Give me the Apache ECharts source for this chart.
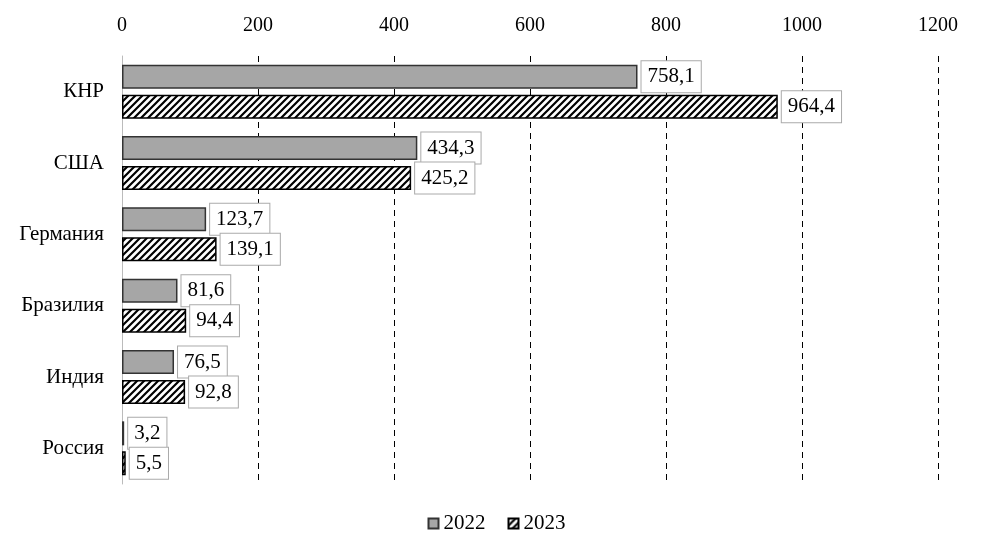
<!DOCTYPE html>
<html>
<head>
<meta charset="utf-8">
<script src="https://cdn.jsdelivr.net/npm/echarts@6/dist/echarts.min.js"></script>
<style>
  html, body { margin: 0; padding: 0; background: #fff; }
  #chart { width: 993px; height: 555px; }
</style>
</head>
<body>
<div id="chart"></div>
<script>
var countries = ['КНР', 'США', 'Германия', 'Бразилия', 'Индия', 'Россия'];
var values2022 = [758.1, 434.3, 123.7, 81.6, 76.5, 3.2];
var values2023 = [964.4, 425.2, 139.1, 94.4, 92.8, 5.5];
var seriesNames = ['2022', '2023'];

// hatch pattern for 2023
var hatch = document.createElement('canvas');
hatch.width = 7;
hatch.height = 7;
var hc = hatch.getContext('2d');
hc.fillStyle = '#fff';
hc.fillRect(0, 0, 7, 7);
hc.strokeStyle = '#000';
hc.lineWidth = 2.2;
hc.beginPath();
hc.moveTo(-1, 8); hc.lineTo(8, -1);
hc.moveTo(-4.5, 4.5); hc.lineTo(4.5, -4.5);
hc.moveTo(2.5, 11.5); hc.lineTo(11.5, 2.5);
hc.stroke();

var font = "'Liberation Serif', 'Times New Roman', serif";

function fmt(p) {
  return String(p.value).replace('.', ',');
}

var labelStyle = {
  show: true,
  position: 'right',
  distance: 4,
  formatter: fmt,
  fontFamily: font,
  fontSize: 21,
  lineHeight: 22,
  color: '#000',
  backgroundColor: '#fff',
  borderColor: '#aaa',
  borderWidth: 1,
  padding: [5, 6, 4, 6]
};

var chart = echarts.init(document.getElementById('chart'));
chart.setOption({
  animation: false,
  grid: { left: 122, right: 55, top: 56, bottom: 71 },
  legend: {
    bottom: 16,
    left: 'center',
    icon: 'rect',
    itemWidth: 10,
    itemHeight: 10,
    itemGap: 22,
    textStyle: { fontFamily: font, fontSize: 21, color: '#000' },
    data: seriesNames
  },
  xAxis: {
    type: 'value',
    position: 'top',
    min: 0,
    max: 1200,
    interval: 200,
    axisLine: { show: false },
    axisTick: { show: false },
    axisLabel: {
      fontFamily: font, fontSize: 20, color: '#000', margin: 20,
      formatter: function (v) { return String(v); }
    },
    splitLine: { show: true, lineStyle: { color: '#000', type: [6, 5], width: 1 } }
  },
  yAxis: {
    type: 'category',
    inverse: true,
    data: countries,
    axisLine: { show: true, lineStyle: { color: '#bbb' } },
    axisTick: { show: false },
    axisLabel: { fontFamily: font, fontSize: 21, color: '#000', margin: 18 }
  },
  series: [
    {
      name: seriesNames[0],
      type: 'bar',
      data: values2022,
      barWidth: 24,
      barGap: '25%',
      itemStyle: { color: '#a6a6a6', borderColor: '#333', borderWidth: 1.5 },
      label: labelStyle
    },
    {
      name: seriesNames[1],
      type: 'bar',
      data: values2023,
      barWidth: 24,
      itemStyle: { color: { image: hatch, repeat: 'repeat' }, borderColor: '#000', borderWidth: 1.5 },
      label: labelStyle
    }
  ]
});
</script>
</body>
</html>
